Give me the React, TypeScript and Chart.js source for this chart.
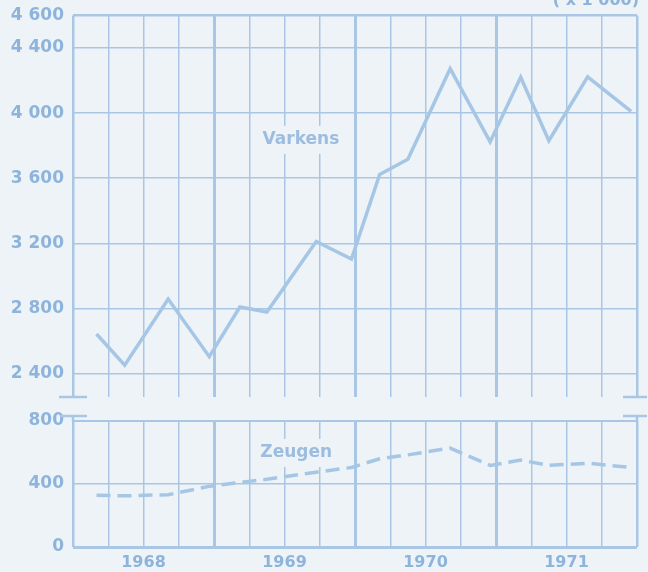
import React, { useEffect, useRef } from "react";
import { Chart, registerables } from "chart.js";

Chart.register(...registerables);

// ---- data ----
const MONTHS = [2.0, 4.4, 8.1, 11.6, 14.2, 16.5, 20.7, 23.7, 26.1, 28.5, 32.1, 35.5, 38.1, 40.5, 43.8, 47.5];
const VARKENS = [2642, 2451, 2857, 2503, 2808, 2777, 3211, 3103, 3623, 3716, 4273, 3823, 4220, 3830, 4223, 4011];
const ZEUGEN = [328, 325, 332, 385, 410, 430, 475, 505, 560, 585, 628, 518, 552, 518, 532, 505];
const YEARS = ["1968", "1969", "1970", "1971"];
const YEAR_TICKS = [6, 18, 30, 42];
const VARKENS_TICKS = [2400, 2800, 3200, 3600, 4000, 4400, 4600];
const ZEUGEN_TICKS = [0, 400, 800];
const VARKENS_LABEL = "Varkens";
const ZEUGEN_LABEL = "Zeugen";
const UNIT_LABEL = "( x 1 000)";

// ---- styles ----
const BG = "#eef3f7";
const GRID = "#a9c7e4";
const LINE = "#a6c6e6";
const TEXT = "#8db4dc";
const LABEL_TEXT = "#9dbde0";
const FONT = "'DejaVu Sans', 'Noto Sans', sans-serif";

const fmt = (v: number) =>
  v >= 1000 ? `${Math.floor(v / 1000)} ${String(v % 1000).padStart(3, "0")}` : String(v);

const monthTicks = () => {
  const t: { value: number }[] = [];
  for (let m = 0; m <= 48; m += 3) t.push({ value: m });
  return t;
};

function drawBoxLabel(chart: any, text: string, xVal: number, yVal: number) {
  const { ctx } = chart;
  const x = chart.scales.x.getPixelForValue(xVal);
  const y = chart.scales.y.getPixelForValue(yVal);
  ctx.save();
  ctx.font = `bold 17px ${FONT}`;
  const w = ctx.measureText(text).width;
  ctx.fillStyle = BG;
  ctx.fillRect(x - w / 2 - 8, y - 14, w + 16, 28);
  ctx.fillStyle = LABEL_TEXT;
  ctx.textAlign = "center";
  ctx.textBaseline = "middle";
  ctx.fillText(text, x, y);
  ctx.restore();
}

const xGridWidth = (c: any) => {
  const v = c.tick ? c.tick.value : 0;
  if (v === 0 || v === 48) return 2.5;
  return v % 12 === 0 ? 3 : 1.5;
};

const noPad = (s: any) => {
  s.paddingTop = 0;
  s.paddingBottom = 0;
  s.paddingLeft = 0;
  s.paddingRight = 0;
};

export default function App() {
  const topRef = useRef<HTMLCanvasElement | null>(null);
  const botRef = useRef<HTMLCanvasElement | null>(null);

  useEffect(() => {
    const topDecor = {
      id: "topDecor",
      afterDraw(chart: any) {
        const { ctx, chartArea } = chart;
        const { left, right, bottom } = chartArea;
        ctx.save();
        ctx.strokeStyle = GRID;
        ctx.lineWidth = 2.5;
        ctx.beginPath();
        ctx.moveTo(left - 14, bottom);
        ctx.lineTo(left + 14, bottom);
        ctx.moveTo(right - 14, bottom);
        ctx.lineTo(right + 10, bottom);
        ctx.stroke();
        ctx.font = `bold 16px ${FONT}`;
        ctx.fillStyle = TEXT;
        ctx.textAlign = "right";
        ctx.textBaseline = "alphabetic";
        ctx.fillText(UNIT_LABEL, right + 2, 5);
        ctx.restore();
        drawBoxLabel(chart, VARKENS_LABEL, 19.4, 3836);
      },
    };

    const botDecor = {
      id: "botDecor",
      afterDraw(chart: any) {
        const { ctx, chartArea } = chart;
        const { left, right, top } = chartArea;
        const yb = top - 5;
        ctx.save();
        ctx.strokeStyle = GRID;
        ctx.lineWidth = 2.5;
        ctx.beginPath();
        ctx.moveTo(left - 13, yb);
        ctx.lineTo(left + 14, yb);
        ctx.moveTo(left, yb);
        ctx.lineTo(left, top);
        ctx.moveTo(right - 14, yb);
        ctx.lineTo(right + 10, yb);
        ctx.moveTo(right, yb);
        ctx.lineTo(right, top);
        ctx.stroke();
        ctx.restore();
        drawBoxLabel(chart, ZEUGEN_LABEL, 19.0, 597);
      },
    };

    const top = new Chart(topRef.current!, {
      type: "line",
      data: {
        datasets: [
          {
            data: MONTHS.map((m, i) => ({ x: m, y: VARKENS[i] })),
            borderColor: LINE,
            borderWidth: 3.5,
            pointRadius: 0,
            tension: 0,
            fill: false,
          },
        ],
      },
      options: {
        animation: false,
        responsive: false,
        devicePixelRatio: 1,
        layout: { padding: { top: 15.5, right: 11, bottom: 8, left: 0 } },
        plugins: { legend: { display: false }, tooltip: { enabled: false } },
        scales: {
          x: {
            type: "linear",
            min: 0,
            max: 48,
            afterBuildTicks: (s: any) => {
              s.ticks = monthTicks();
            },
            afterFit: (s: any) => {
              s.height = 0;
              noPad(s);
            },
            ticks: { display: false },
            border: { display: false },
            grid: { color: GRID, lineWidth: xGridWidth, drawTicks: false },
          },
          y: {
            type: "linear",
            min: 2255,
            max: 4600,
            afterBuildTicks: (s: any) => {
              s.ticks = VARKENS_TICKS.map((v) => ({ value: v }));
            },
            afterFit: (s: any) => {
              s.width = 73;
              noPad(s);
            },
            border: { display: false },
            grid: {
              color: GRID,
              lineWidth: (c: any) => (c.tick && c.tick.value === 4600 ? 2.5 : 1.5),
              drawTicks: false,
            },
            ticks: {
              padding: 9,
              color: TEXT,
              font: { family: FONT, size: 17, weight: "bold" },
              callback: (v: any) => fmt(Number(v)),
            },
          },
        },
      },
      plugins: [topDecor],
    } as any);

    const bot = new Chart(botRef.current!, {
      type: "line",
      data: {
        datasets: [
          {
            data: MONTHS.map((m, i) => ({ x: m, y: ZEUGEN[i] })),
            borderColor: LINE,
            borderWidth: 3.5,
            borderDash: [14, 7],
            pointRadius: 0,
            tension: 0,
            fill: false,
          },
        ],
      },
      options: {
        animation: false,
        responsive: false,
        devicePixelRatio: 1,
        layout: { padding: { top: 16, right: 11, bottom: 0, left: 0 } },
        plugins: { legend: { display: false }, tooltip: { enabled: false } },
        scales: {
          x: {
            type: "linear",
            min: 0,
            max: 48,
            afterBuildTicks: (s: any) => {
              s.ticks = monthTicks();
            },
            afterFit: (s: any) => {
              s.height = 25;
              noPad(s);
            },
            border: { display: false },
            grid: { color: GRID, lineWidth: xGridWidth, drawTicks: false },
            ticks: {
              autoSkip: false,
              maxRotation: 0,
              padding: 6,
              color: TEXT,
              font: { family: FONT, size: 16, weight: "bold" },
              callback: (v: any) => {
                const i = YEAR_TICKS.indexOf(Number(v));
                return i >= 0 ? YEARS[i] : "";
              },
            },
          },
          y: {
            type: "linear",
            min: 0,
            max: 800,
            afterBuildTicks: (s: any) => {
              s.ticks = ZEUGEN_TICKS.map((v) => ({ value: v }));
            },
            afterFit: (s: any) => {
              s.width = 73;
              noPad(s);
            },
            border: { display: false },
            grid: {
              color: GRID,
              lineWidth: (c: any) => {
                const v = c.tick ? c.tick.value : 0;
                return v === 0 ? 3 : v === 800 ? 2 : 1.5;
              },
              drawTicks: false,
            },
            ticks: {
              padding: 9,
              color: TEXT,
              font: { family: FONT, size: 17, weight: "bold" },
              callback: (v: any) => fmt(Number(v)),
            },
          },
        },
      },
      plugins: [botDecor],
    } as any);

    return () => {
      top.destroy();
      bot.destroy();
    };
  }, []);

  return (
    <div
      style={{
        position: "absolute",
        left: 0,
        top: 0,
        width: 648,
        height: 572,
        background: BG,
        overflow: "hidden",
      }}
    >
      <canvas
        ref={topRef}
        width={648}
        height={405}
        style={{ position: "absolute", left: 0, top: 0, width: 648, height: 405 }}
      />
      <canvas
        ref={botRef}
        width={648}
        height={167}
        style={{ position: "absolute", left: 0, top: 405, width: 648, height: 167 }}
      />
    </div>
  );
}
